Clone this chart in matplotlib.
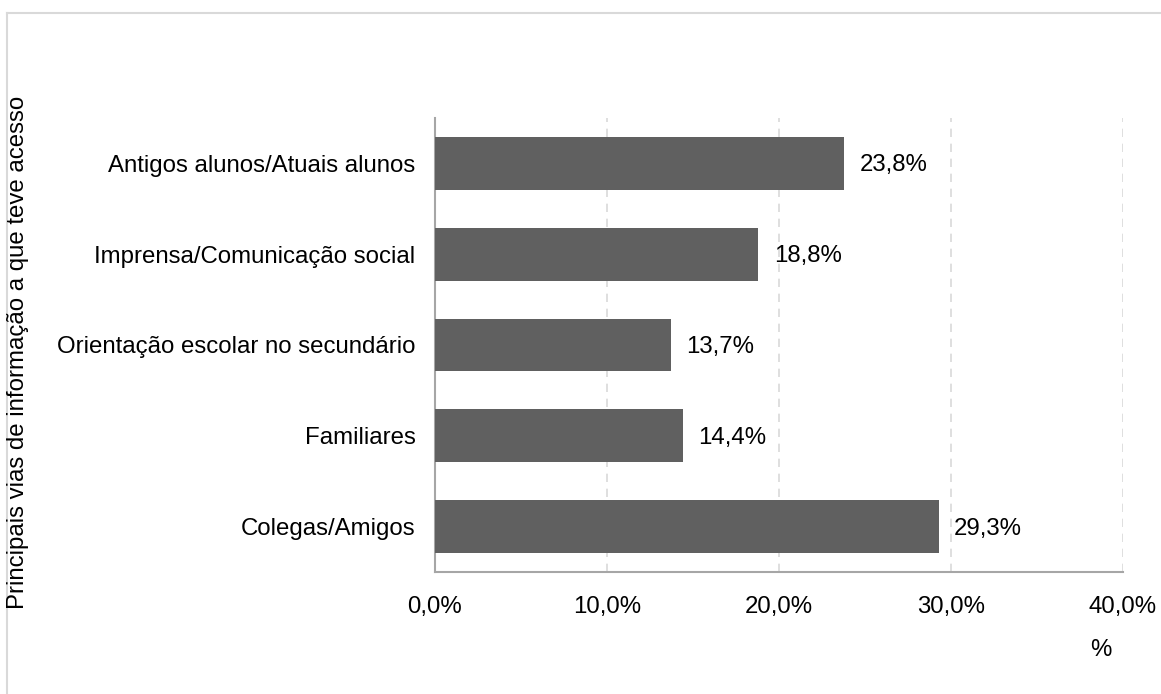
import matplotlib.pyplot as plt
from matplotlib.lines import Line2D

plt.rcParams['font.family'] = ['Liberation Sans', 'DejaVu Sans']

categorias = ["Colegas/Amigos", "Familiares", "Orientação escolar no secundário",
              "Imprensa/Comunicação social", "Antigos alunos/Atuais alunos"]
valores = [29.3, 14.4, 13.7, 18.8, 23.8]
ticks = [0, 10, 20, 30, 40]
tick_labels = ["0,0%", "10,0%", "20,0%", "30,0%", "40,0%"]

W, H = 1161, 694
fs = 17.3
fig = plt.figure(figsize=(W / 100, H / 100), dpi=100)
ax = fig.add_axes([435 / W, 1 - 572 / H, (1123 - 435) / W, (572 - 118) / H])

pos = list(range(len(categorias)))
bars = ax.barh(pos, valores, height=0.58, color='#606060', zorder=3)
for b, v in zip(bars, valores):
    ax.annotate(f"{v:.1f}%".replace('.', ','), (v, b.get_y() + b.get_height() / 2),
                xytext=(11, -1.5), textcoords='offset points',
                va='center', ha='left', fontsize=fs, color='#000000')

ax.set_xlim(0, 40)
ax.set_ylim(-0.5, len(categorias) - 0.5)
ax.set_yticks(pos)
ax.set_yticklabels(categorias, fontsize=fs)
ax.set_xticks(ticks)
ax.set_xticklabels(tick_labels, fontsize=fs)
ax.tick_params(length=0)
ax.tick_params(axis='x', pad=17)
ax.tick_params(axis='y', pad=14)

ax.grid(axis='x', linestyle=(0, (5, 4)), color='#d9d9d9', linewidth=1.2, zorder=0)
for s in ['top', 'right']:
    ax.spines[s].set_visible(False)
for s in ['left', 'bottom']:
    ax.spines[s].set_color('#a6a6a6')
    ax.spines[s].set_linewidth(1.5)

fig.text(1101 / W, 1 - 650 / H, "%", ha='center', va='center', fontsize=fs)
fig.text(18 / W, 1 - 352 / H, "Principais vias de informação a que teve acesso",
         rotation=90, ha='center', va='center', fontsize=fs)

# moldura
fig.add_artist(Line2D([7 / W, 7 / W], [0, 1 - 13 / H], color='#d9d9d9', lw=1.5,
                      transform=fig.transFigure))
fig.add_artist(Line2D([7 / W, 1], [1 - 13 / H, 1 - 13 / H], color='#d9d9d9', lw=1.5,
                      transform=fig.transFigure))

fig.savefig("out.png", dpi=100)
